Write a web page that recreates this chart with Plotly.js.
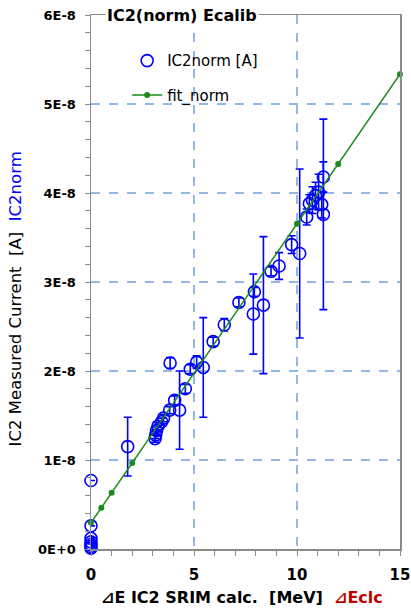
<!DOCTYPE html>
<html>
<head>
<meta charset="utf-8">
<script src="https://cdn.plot.ly/plotly-3.0.1.min.js"></script>
<style>html,body{margin:0;padding:0;background:#fff;}#chart{width:411px;height:610px;}</style>
</head>
<body>
<div id="chart"></div>
<script>
// Measured IC2 current (units of 1E-8 A) vs SRIM ΔE (MeV)
const measX = [0, 0, 0, 0, 0, 0, 0, 1.78, 3.11, 3.14, 3.18, 3.25, 3.43, 3.52, 3.82, 3.84, 4.06, 4.30, 4.58, 4.82, 5.13, 5.45, 5.93, 6.47, 7.18, 7.88, 7.93, 8.37, 8.74, 9.13, 9.74, 10.13, 10.47, 10.60, 10.75, 10.90, 11.05, 11.20, 11.28, 11.28];
const measY = [0.77, 0.26, 0.12, 0.08, 0.05, 0.03, 0.01, 1.15, 1.24, 1.28, 1.33, 1.38, 1.43, 1.47, 1.56, 2.09, 1.67, 1.56, 1.80, 2.02, 2.10, 2.04, 2.33, 2.52, 2.77, 2.64, 2.89, 2.74, 3.12, 3.18, 3.42, 3.32, 3.73, 3.88, 3.92, 3.97, 4.01, 3.87, 4.18, 3.76];
const measErr = [0, 0, 0.01, 0.01, 0.01, 0.01, 0.01, 0.33, 0.04, 0.04, 0.04, 0.04, 0.04, 0.04, 0.04, 0.06, 0.05, 0.44, 0.05, 0.05, 0.07, 0.56, 0.05, 0.07, 0.05, 0.45, 0.05, 0.77, 0.05, 0.15, 0.10, 0.95, 0.09, 0.10, 0.15, 0.15, 0.20, 0.15, 0.17, 1.07];
// Fit line points
const fitX = [0, 0.5, 1, 2, 10, 12, 15];
const fitY = [0.295, 0.463, 0.631, 0.967, 3.655, 4.327, 5.335];
// Tick labels
const yTickVals = [0, 1, 2, 3, 4, 5, 6];
const yTickText = ["0E+0", "1E-8", "2E-8", "3E-8", "4E-8", "5E-8", "6E-8"];
const xTickVals = [0, 5, 10, 15];
const xTickText = ["0", "5", "10", "15"];

const FONT = "'DejaVu Sans', 'Noto Sans CJK JP', sans-serif";
const BLUE = "#0000ff";
const GREEN = "#1b8a1b";
const GRID = "#93b8e6";
const AXIS = "#8a8a8a";

const traces = [
  {
    x: measX, y: measY, type: "scatter", mode: "markers", name: "IC2norm [A]",
    legendgroup: "a", cliponaxis: false,
    marker: {symbol: "circle-open", size: 12, color: BLUE, line: {width: 1.6, color: BLUE}},
    error_y: {type: "data", array: measErr, visible: true, color: BLUE, thickness: 1.6, width: 4}
  },
  {
    x: fitX, y: fitY, type: "scatter", mode: "lines+markers", name: "fit_norm",
    legendgroup: "b", cliponaxis: false,
    line: {color: GREEN, width: 1.5},
    marker: {symbol: "circle", size: 6, color: GREEN}
  }
];

const layout = {
  width: 411, height: 610,
  margin: {l: 91, r: 11, t: 15, b: 61},
  paper_bgcolor: "#fff", plot_bgcolor: "#fff",
  font: {family: FONT, size: 14, color: "#000"},
  showlegend: true,
  legend: {
    x: 0.117, y: 0.945, xanchor: "left", yanchor: "top",
    bgcolor: "rgba(255,255,255,0)", borderwidth: 0,
    font: {family: FONT, size: 15, color: "#000"},
    traceorder: "grouped", tracegroupgap: 12
  },
  xaxis: {
    range: [0, 15], tickvals: xTickVals, ticktext: xTickText,
    showline: true, linecolor: AXIS, linewidth: 1.5, mirror: true,
    ticks: "outside", ticklen: 5, tickcolor: AXIS, tickwidth: 1,
    minor: {dtick: 1, ticks: "outside", ticklen: 5, tickcolor: AXIS, tickwidth: 1, showgrid: false},
    showgrid: true, gridcolor: GRID, griddash: "dash", gridwidth: 1.2,
    zeroline: false,
    ticklabelstandoff: 6,
    tickfont: {family: FONT, size: 15, color: "#000", weight: "bold"}
  },
  yaxis: {
    range: [0, 6], tickvals: yTickVals, ticktext: yTickText,
    showline: true, linecolor: AXIS, linewidth: 1.5, mirror: true,
    ticks: "outside", ticklen: 5, tickcolor: AXIS, tickwidth: 1,
    minor: {dtick: 0.2, ticks: "outside", ticklen: 5, tickcolor: AXIS, tickwidth: 1, showgrid: false},
    showgrid: true, gridcolor: GRID, griddash: "dash", gridwidth: 1.2,
    zeroline: false,
    ticklabelstandoff: 6,
    tickfont: {family: FONT, size: 13, color: "#000", weight: "bold"}
  },
  annotations: [
    {
      text: "IC2(norm) Ecalib", xref: "paper", yref: "paper", x: 0.045, y: 1.0,
      xanchor: "left", yanchor: "middle", showarrow: false, bgcolor: "#fff",
      font: {family: FONT, size: 16, color: "#000", weight: "bold"}, borderpad: 1
    },
    {
      text: "IC2 Measured Current&nbsp; [A]&nbsp; <span style=\"color:#0000ff\">IC2norm</span>",
      xref: "paper", yref: "paper", x: -0.245, y: 0.468, textangle: -90,
      xanchor: "center", yanchor: "middle", showarrow: false,
      font: {family: FONT, size: 16.5, color: "#000"}
    },
    {
      text: "⊿E IC2 SRIM calc.&nbsp; [MeV]&nbsp; <span style=\"color:#c00000\">⊿Eclc</span>",
      xref: "paper", yref: "paper", x: 0.49, y: -0.09,
      xanchor: "center", yanchor: "middle", showarrow: false,
      font: {family: FONT, size: 16, color: "#000", weight: "bold"}
    }
  ]
};

Plotly.newPlot("chart", traces, layout, {displayModeBar: false, staticPlot: true});
</script>
</body>
</html>
